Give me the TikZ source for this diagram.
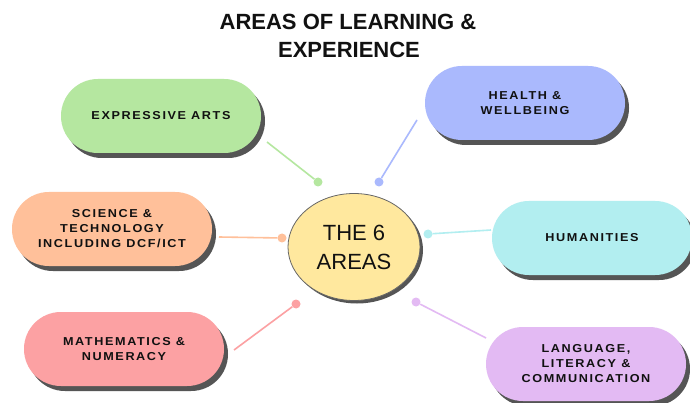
\documentclass[tikz,border=0pt]{standalone}
\usepackage{fontspec}
\setmainfont{Liberation Sans}
\newfontfamily\pillfont{Liberation Sans}[LetterSpace=14,FakeStretch=1.1]
\usetikzlibrary{shapes.geometric,shadows}
\definecolor{cgreen}{HTML}{B5E7A0}
\definecolor{cblue}{HTML}{AAB9FD}
\definecolor{cpeach}{HTML}{FFC09A}
\definecolor{ccyan}{HTML}{B2EEF0}
\definecolor{cpink}{HTML}{FCA1A3}
\definecolor{clav}{HTML}{E3BAF3}
\definecolor{cyell}{HTML}{FFE89E}
\definecolor{shgray}{HTML}{555555}
\definecolor{txt}{HTML}{111111}
\tikzset{
  pill/.style={rectangle, rounded corners=36.9pt, minimum width=200pt, minimum height=74pt,
    inner sep=0pt, fill=#1, text=txt, align=center,
    font=\pillfont\bfseries\fontsize{11.5}{15}\selectfont,
    drop shadow={shadow xshift=4pt, shadow yshift=-5pt, fill=shgray, opacity=1}},
  conn/.style={draw=#1, line width=1.6pt},
  dotn/.style={circle, fill=#1, inner sep=0pt, minimum size=9pt},
  titlet/.style={font=\bfseries\fontsize{22}{26}\selectfont, text=txt, inner sep=0pt},
}
\begin{document}
\begin{tikzpicture}[x=1pt,y=-1pt]
\useasboundingbox[fill=white] (0,0) rectangle (690,403);
% title
\node[titlet] (t1) at (348,22) {AREAS OF LEARNING \&};
\node[titlet] (t2) at (349,50) {EXPERIENCE};
% connectors (drawn first)
\coordinate (s1) at (267,142); \node[dotn=cgreen] (d1) at (318,182) {};
\coordinate (s2) at (417,120); \node[dotn=cblue] (d2) at (379,182) {};
\coordinate (s3) at (219,237); \node[dotn=cpeach] (d3) at (282,238) {};
\coordinate (s4) at (491,230); \node[dotn=ccyan] (d4) at (428,234) {};
\coordinate (s5) at (234,350); \node[dotn=cpink] (d5) at (296,304) {};
\coordinate (s6) at (486,338); \node[dotn=clav] (d6) at (416,302) {};
\draw[conn=cgreen] (s1) -- (d1);
\draw[conn=cblue] (s2) -- (d2);
\draw[conn=cpeach] (s3) -- (d3);
\draw[conn=ccyan] (s4) -- (d4);
\draw[conn=cpink] (s5) -- (d5);
\draw[conn=clav] (s6) -- (d6);
% centre
\node[ellipse, minimum width=132pt, minimum height=107pt, inner sep=0pt, fill=cyell,
  draw=black!60, line width=0.8pt, align=center, text=txt,
  font=\fontsize{22}{29}\selectfont,
  drop shadow={shadow xshift=3pt, shadow yshift=-3pt, fill=shgray, opacity=1}]
  (c) at (354,247) {THE 6\\AREAS};
% pills
\node[pill=cgreen] (p1) at (161,116) {EXPRESSIVE ARTS};
\node[pill=cblue] (p2) at (525,103) {HEALTH \&\\WELLBEING};
\node[pill=cpeach] (p3) at (112,229) {SCIENCE \&\\TECHNOLOGY\\INCLUDING DCF/ICT};
\node[pill=ccyan] (p4) at (592,238) {HUMANITIES};
\node[pill=cpink] (p5) at (124,349) {MATHEMATICS \&\\NUMERACY};
\node[pill=clav] (p6) at (586,364) {LANGUAGE,\\LITERACY \&\\COMMUNICATION};
\end{tikzpicture}
\end{document}
